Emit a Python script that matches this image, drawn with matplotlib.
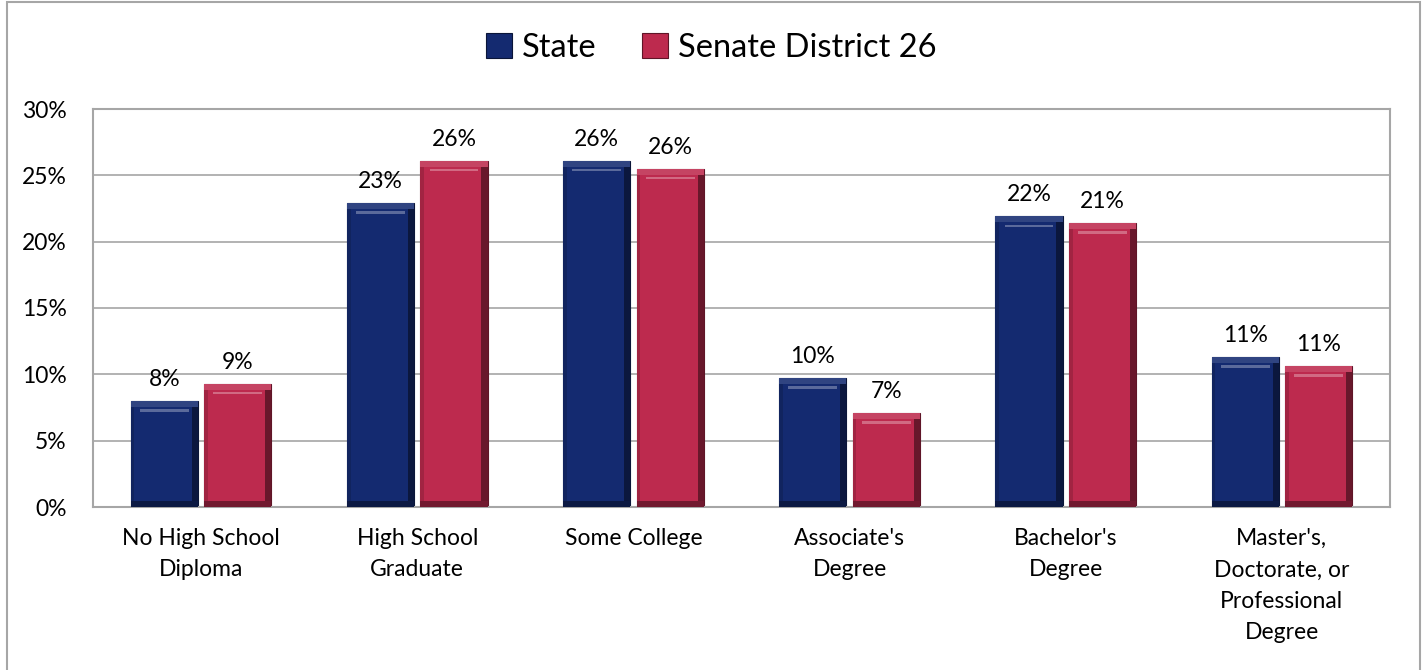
import numpy as np
import matplotlib
matplotlib.use('Agg')
import matplotlib.pyplot as plt
from matplotlib.patches import Rectangle
from matplotlib.colors import to_rgb

plt.rcParams['font.family'] = ['Lato', 'DejaVu Sans']

categories = ['No High School\nDiploma', 'High School\nGraduate', 'Some College',
              "Associate's\nDegree", "Bachelor's\nDegree",
              "Master's,\nDoctorate, or\nProfessional\nDegree"]
state = [8.0, 22.9, 26.1, 9.7, 21.9, 11.3]
district = [9.3, 26.1, 25.5, 7.1, 21.4, 10.6]
state_labels = ['8%', '23%', '26%', '10%', '22%', '11%']
district_labels = ['9%', '26%', '26%', '7%', '21%', '11%']

navy = '#142a70'
crimson = '#bd2a4e'

fig = plt.figure(figsize=(14.22, 6.70), dpi=100)
ax = fig.add_axes([93/1422, 163/670, 1297/1422, 398/670])

# outer frame round the whole chart
fig.patches.append(Rectangle((7/1422, -0.01), 1413/1422, 1.0 - 2/670 + 0.01,
                             transform=fig.transFigure, fill=False,
                             edgecolor='#a6a6a6', linewidth=1.5))

x = np.arange(len(categories))
w = 0.31


def shade(c, f):
    r, g, b = to_rgb(c)
    if f < 1:
        return (r*f, g*f, b*f)
    f = f - 1
    return (r + (1-r)*f, g + (1-g)*f, b + (1-b)*f)


def bevel(bars, color):
    # fake the bevelled look of the original bars
    for b in bars:
        bx, bw, bh = b.get_x(), b.get_width(), b.get_height()
        ex = bw*0.09
        ey = 0.45
        ax.add_patch(Rectangle((bx + bw - ex, 0), ex, bh, color=shade(color, 0.55),
                               zorder=3, linewidth=0))
        ax.add_patch(Rectangle((bx, 0), ex*0.6, bh, color=shade(color, 0.85),
                               zorder=3, linewidth=0))
        ax.add_patch(Rectangle((bx, 0), bw, ey, color=shade(color, 0.6),
                               zorder=3, linewidth=0))
        ax.add_patch(Rectangle((bx, bh - ey), bw, ey, color=shade(color, 1.12),
                               zorder=3, linewidth=0))
        ax.add_patch(Rectangle((bx + ex*1.5, bh - ey*1.8), bw - ex*3, ey*0.45,
                               color=shade(color, 1.3), zorder=3, linewidth=0))


b1 = ax.bar(x - 0.17, state, w, color=navy, edgecolor=shade(navy, 0.5),
            linewidth=0.8, zorder=2, label='State')
b2 = ax.bar(x + 0.17, district, w, color=crimson, edgecolor=shade(crimson, 0.5),
            linewidth=0.8, zorder=2, label='Senate District 26')
bevel(b1, navy)
bevel(b2, crimson)

for xi, v, t in zip(x - 0.17, state, state_labels):
    ax.annotate(t, (xi, v), xytext=(0, 8), textcoords='offset points',
                ha='center', va='bottom', fontsize=16.5)
for xi, v, t in zip(x + 0.17, district, district_labels):
    ax.annotate(t, (xi, v), xytext=(0, 8), textcoords='offset points',
                ha='center', va='bottom', fontsize=16.5)

ax.set_xlim(-0.5, len(categories) - 0.5)
ax.set_ylim(0, 30)
ax.set_yticks(range(0, 31, 5))
ax.set_yticklabels([f'{v}%' for v in range(0, 31, 5)], fontsize=16.5)
ax.set_xticks(x)
ax.set_xticklabels(categories, fontsize=16.5, linespacing=1.62, va='top')
ax.tick_params(axis='x', length=0, pad=15)
ax.tick_params(axis='y', length=0, pad=19)
ax.grid(axis='y', color='#a6a6a6', linewidth=1.2, zorder=0)
ax.set_axisbelow(True)
for s in ax.spines.values():
    s.set_color('#a6a6a6')
    s.set_linewidth(1.5)

fig.legend(handles=[b1, b2], loc='center', bbox_to_anchor=(0.5, 1 - 48/670),
           ncol=2, frameon=False, fontsize=23.5, handlelength=0.8, handleheight=0.8,
           handletextpad=0.3, columnspacing=1.4)

fig.savefig('out.png', dpi=100)
